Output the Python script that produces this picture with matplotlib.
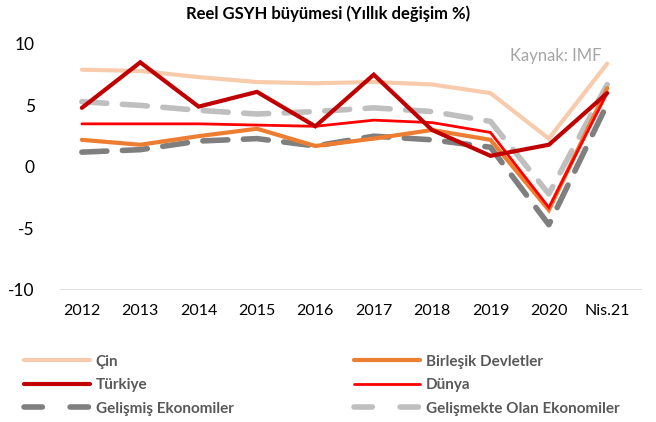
"""Reel GSYH buyumesi chart."""

import matplotlib

matplotlib.use("Agg")
from matplotlib import pyplot as plt
from matplotlib.lines import Line2D

plt.rcParams["font.family"] = ["Lato", "DejaVu Sans"]
plt.rcParams["axes.unicode_minus"] = False

# data
years = ["2012", "2013", "2014", "2015", "2016", "2017", "2018", "2019", "2020", "Nis.21"]
cin = [7.9, 7.8, 7.3, 6.9, 6.8, 6.9, 6.7, 6.0, 2.3, 8.4]
abd = [2.2, 1.8, 2.5, 3.1, 1.7, 2.3, 3.0, 2.2, -3.5, 6.4]
turkiye = [4.8, 8.5, 4.9, 6.1, 3.3, 7.5, 3.0, 0.9, 1.8, 6.0]
dunya = [3.5, 3.5, 3.5, 3.4, 3.3, 3.8, 3.6, 2.8, -3.3, 6.0]
gelismis = [1.2, 1.4, 2.1, 2.3, 1.7, 2.5, 2.2, 1.6, -4.7, 5.1]
gelismekte = [5.3, 5.0, 4.6, 4.3, 4.5, 4.8, 4.5, 3.7, -2.2, 6.7]

x = list(range(len(years)))

fig = plt.figure(figsize=(6.56, 4.22), dpi=100)
ax = fig.add_axes([0.091, 0.313, 0.888, 0.583])

dash = (0, (4.5, 2.8))
series = [
    ("Çin", cin, "#F8CBAD", 3, "-"),
    ("Birleşik Devletler", abd, "#ED7D31", 3, "-"),
    ("Türkiye", turkiye, "#C00000", 3, "-"),
    ("Dünya", dunya, "#FF0000", 2, "-"),
    ("Gelişmiş Ekonomiler", gelismis, "#7F7F7F", 4, dash),
    ("Gelişmekte Olan Ekonomiler", gelismekte, "#BFBFBF", 4, dash),
]

# draw order: dashed first, then solid lines on top
for name, vals, col, lw, ls in [series[5], series[4], series[0], series[1], series[3], series[2]]:
    ax.plot(x, vals, color=col, lw=lw, ls=ls, solid_capstyle="round",
            dash_capstyle="round", solid_joinstyle="miter")

ax.set_xlim(-0.38, 9.6)
ax.set_ylim(-10, 10)
ax.set_yticks([-10, -5, 0, 5, 10])
ax.set_xticks(x)
ax.set_xticklabels(years)
ax.axhline(-10, color="#D9D9D9", lw=1.2)
for s in ax.spines.values():
    s.set_visible(False)
ax.tick_params(axis="both", length=0, labelsize=11.5, colors="black")
ax.tick_params(axis="y", pad=18, labelsize=12.5)
ax.tick_params(axis="x", pad=10)

ax.text(0.93, 0.95, "Kaynak: IMF", transform=ax.transAxes, ha="right",
        va="center", fontsize=12, color="#A6A6A6")

fig.text(0.5, 0.967, "Reel GSYH büyümesi (Yıllık değişim %)", ha="center",
         va="center", fontsize=12, fontweight="bold")

order = [0, 2, 4, 1, 3, 5]
handles = []
labels = []
for i in order:
    name, vals, col, lw, ls = series[i]
    handles.append(Line2D([], [], color=col, lw=lw, ls=ls if ls == "-" else (0, (3.3, 5.0)),
                          solid_capstyle="round", dash_capstyle="round"))
    labels.append(name)

leg = fig.legend(handles, labels, ncol=2, loc="lower left",
                 bbox_to_anchor=(0.02, -0.01), borderaxespad=0.3,
                 frameon=False, handlelength=4.3, handletextpad=0.4,
                 labelspacing=0.62, columnspacing=7.9,
                 prop={"weight": "bold", "size": 11})
for t in leg.get_texts():
    t.set_color("#595959")

fig.savefig("out.png", dpi=100)
